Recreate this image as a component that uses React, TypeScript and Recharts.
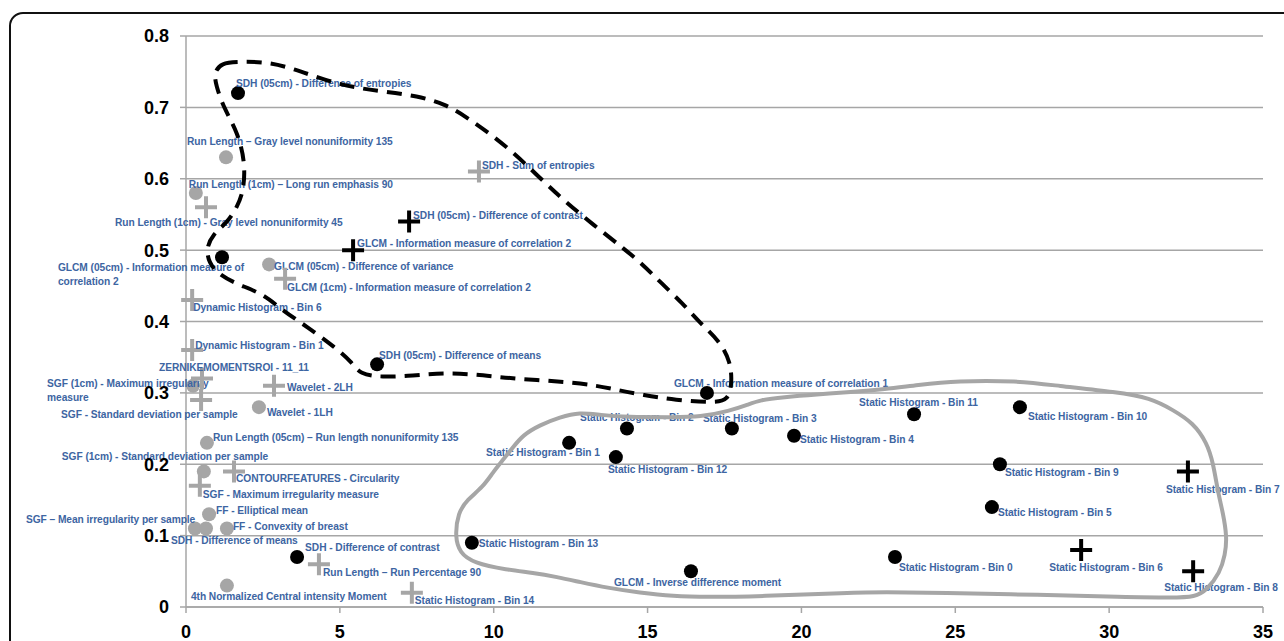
import React from "react";
import { ScatterChart, Scatter, XAxis, YAxis, CartesianGrid } from "recharts";

const xTicks = [0, 5, 10, 15, 20, 25, 30, 35];
const yTicks = [0, 0.1, 0.2, 0.3, 0.4, 0.5, 0.6, 0.7, 0.8];

// black dots
const blackDots = [
  { x: 1.69, y: 0.72, name: "SDH (05cm) - Difference of entropies" },
  { x: 1.17, y: 0.49, name: "GLCM (05cm) - Information measure of\ncorrelation 2" },
  { x: 6.21, y: 0.34, name: "SDH (05cm) - Difference of means" },
  { x: 16.93, y: 0.3, name: "GLCM - Information measure of correlation 1" },
  { x: 14.33, y: 0.25, name: "Static Histogram - Bin 2" },
  { x: 12.45, y: 0.23, name: "Static Histogram -  Bin 1" },
  { x: 13.97, y: 0.21, name: "Static Histogram - Bin 12" },
  { x: 17.74, y: 0.25, name: "Static Histogram - Bin 3" },
  { x: 19.76, y: 0.24, name: "Static Histogram - Bin 4" },
  { x: 23.66, y: 0.27, name: "Static Histogram - Bin 11" },
  { x: 27.1, y: 0.28, name: "Static Histogram - Bin 10" },
  { x: 26.45, y: 0.2, name: "Static Histogram - Bin 9" },
  { x: 26.19, y: 0.14, name: "Static Histogram - Bin 5" },
  { x: 23.04, y: 0.07, name: "Static Histogram - Bin 0" },
  { x: 16.41, y: 0.05, name: "GLCM - Inverse difference moment" },
  { x: 9.29, y: 0.09, name: "Static Histogram - Bin 13" },
  { x: 3.61, y: 0.07, name: "SDH - Difference of contrast" },
];

// black crosses
const blackCrosses = [
  { x: 7.25, y: 0.54, name: "SDH (05cm) - Difference of contrast" },
  { x: 5.43, y: 0.5, name: "GLCM - Information measure of correlation 2" },
  { x: 32.56, y: 0.19, name: "Static Histogram - Bin 7" },
  { x: 29.09, y: 0.08, name: "Static Histogram - Bin 6" },
  { x: 32.73, y: 0.05, name: "Static Histogram - Bin 8" },
];

// grey dots
const greyDots = [
  { x: 1.3, y: 0.63, name: "Run Length \u2013 Gray level nonuniformity 135" },
  { x: 0.32, y: 0.58, name: "Run Length (1cm) \u2013 Long run emphasis 90" },
  { x: 2.7, y: 0.48, name: "GLCM (05cm) - Difference of variance" },
  { x: 0.23, y: 0.31, name: "SGF (1cm) - Maximum irregularity\nmeasure" },
  { x: 2.37, y: 0.28, name: "Wavelet - 1LH" },
  { x: 0.68, y: 0.23, name: "Run Length (05cm) \u2013 Run length nonuniformity 135" },
  { x: 0.58, y: 0.19, name: "SGF (1cm) - Standard deviation per sample" },
  { x: 0.75, y: 0.13, name: "FF - Elliptical mean" },
  { x: 0.29, y: 0.11, name: "SGF \u2013 Mean irregularity per sample" },
  { x: 0.65, y: 0.11, name: "SDH - Difference of means" },
  { x: 1.33, y: 0.11, name: "FF - Convexity of breast" },
  { x: 1.33, y: 0.03, name: "4th Normalized Central intensity Moment" },
];

// grey crosses
const greyCrosses = [
  { x: 9.52, y: 0.61, name: "SDH - Sum of entropies" },
  { x: 0.65, y: 0.56, name: "Run Length (1cm) - Gray level nonuniformity 45" },
  { x: 3.22, y: 0.46, name: "GLCM (1cm) - Information measure of correlation 2" },
  { x: 0.2, y: 0.43, name: "Dynamic Histogram - Bin 6" },
  { x: 0.2, y: 0.36, name: "Dynamic Histogram - Bin 1" },
  { x: 0.52, y: 0.32, name: "ZERNIKEMOMENTSROI - 11_11" },
  { x: 2.86, y: 0.31, name: "Wavelet - 2LH" },
  { x: 0.49, y: 0.29, name: "SGF - Standard deviation per sample" },
  { x: 1.56, y: 0.19, name: "CONTOURFEATURES - Circularity" },
  { x: 0.45, y: 0.17, name: "SGF - Maximum irregularity measure" },
  { x: 4.32, y: 0.06, name: "Run Length \u2013 Run Percentage 90" },
  { x: 7.34, y: 0.02, name: "Static Histogram - Bin 14" },
];

// hand-drawn dashed outline (upper group)
const dashedOutline = [
  { x: 0.91, y: 0.75 }, { x: 1.17, y: 0.762 }, { x: 1.62, y: 0.764 }, { x: 2.63, y: 0.764 },
  { x: 3.51, y: 0.754 }, { x: 4.58, y: 0.737 }, { x: 5.56, y: 0.727 }, { x: 6.47, y: 0.722 },
  { x: 7.51, y: 0.716 }, { x: 8.42, y: 0.705 }, { x: 9.16, y: 0.685 }, { x: 9.88, y: 0.663 },
  { x: 10.66, y: 0.636 }, { x: 11.41, y: 0.605 }, { x: 12.12, y: 0.576 }, { x: 12.77, y: 0.552 },
  { x: 13.52, y: 0.526 }, { x: 14.23, y: 0.502 }, { x: 14.82, y: 0.481 }, { x: 15.44, y: 0.454 },
  { x: 16.15, y: 0.425 }, { x: 16.7, y: 0.398 }, { x: 17.32, y: 0.374 }, { x: 17.71, y: 0.343 },
  { x: 17.74, y: 0.311 }, { x: 17.61, y: 0.29 }, { x: 17.19, y: 0.286 }, { x: 15.89, y: 0.29 },
  { x: 14.85, y: 0.297 }, { x: 14.01, y: 0.304 }, { x: 13.39, y: 0.31 }, { x: 12.41, y: 0.315 },
  { x: 11.41, y: 0.318 }, { x: 10.37, y: 0.321 }, { x: 9.39, y: 0.326 }, { x: 8.35, y: 0.328 },
  { x: 7.38, y: 0.324 }, { x: 6.34, y: 0.322 }, { x: 5.65, y: 0.326 }, { x: 5.39, y: 0.343 },
  { x: 4.84, y: 0.364 }, { x: 3.96, y: 0.392 }, { x: 3.15, y: 0.415 }, { x: 2.47, y: 0.44 },
  { x: 1.59, y: 0.453 }, { x: 0.84, y: 0.472 }, { x: 0.62, y: 0.5 }, { x: 0.88, y: 0.523 },
  { x: 1.33, y: 0.538 }, { x: 1.66, y: 0.56 }, { x: 1.88, y: 0.584 }, { x: 1.92, y: 0.623 },
  { x: 1.69, y: 0.664 }, { x: 1.23, y: 0.699 }, { x: 0.97, y: 0.731 },
];

// hand-drawn grey outline (static histogram group)
const greyOutline = [
  { x: 8.74, y: 0.098 }, { x: 8.84, y: 0.132 }, { x: 9.13, y: 0.15 }, { x: 9.65, y: 0.168 },
  { x: 9.98, y: 0.189 }, { x: 10.3, y: 0.206 }, { x: 10.63, y: 0.224 }, { x: 10.95, y: 0.241 },
  { x: 11.5, y: 0.255 }, { x: 12.15, y: 0.266 }, { x: 12.8, y: 0.273 }, { x: 13.45, y: 0.269 },
  { x: 14.33, y: 0.266 }, { x: 15.83, y: 0.266 }, { x: 16.7, y: 0.266 }, { x: 17.68, y: 0.275 },
  { x: 18.23, y: 0.283 }, { x: 18.65, y: 0.29 }, { x: 19.4, y: 0.294 }, { x: 20.51, y: 0.298 },
  { x: 21.58, y: 0.301 }, { x: 22.72, y: 0.305 }, { x: 23.76, y: 0.311 }, { x: 25.06, y: 0.317 },
  { x: 27.01, y: 0.317 }, { x: 28.31, y: 0.31 }, { x: 30.26, y: 0.301 }, { x: 31.33, y: 0.293 },
  { x: 32.08, y: 0.276 }, { x: 32.73, y: 0.258 }, { x: 33.18, y: 0.23 }, { x: 33.38, y: 0.202 },
  { x: 33.54, y: 0.16 }, { x: 33.7, y: 0.132 }, { x: 33.83, y: 0.098 }, { x: 33.77, y: 0.073 },
  { x: 33.6, y: 0.048 }, { x: 33.18, y: 0.024 }, { x: 32.79, y: 0.014 }, { x: 32.08, y: 0.013 },
  { x: 30.45, y: 0.014 }, { x: 27.75, y: 0.017 }, { x: 24.5, y: 0.02 }, { x: 22.65, y: 0.021 },
  { x: 21.58, y: 0.02 }, { x: 18.65, y: 0.015 }, { x: 16.93, y: 0.014 }, { x: 15.83, y: 0.015 },
  { x: 14.75, y: 0.02 }, { x: 13.68, y: 0.027 }, { x: 12.8, y: 0.035 }, { x: 12.06, y: 0.042 },
  { x: 11.28, y: 0.048 }, { x: 10.43, y: 0.052 }, { x: 9.33, y: 0.062 }, { x: 8.9, y: 0.076 },
];

// label placement relative to the marker (px)
const labelOffsets: Record<string, [number, number]> = {
  "SDH (05cm) - Difference of entropies": [-2, -10],
  "GLCM (05cm) - Information measure of\ncorrelation 2": [-164, 10],
  "SDH (05cm) - Difference of means": [2, -9],
  "GLCM - Information measure of correlation 1": [-33, -10],
  "Static Histogram - Bin 2": [-47, -12],
  "Static Histogram -  Bin 1": [-83, 9],
  "Static Histogram - Bin 12": [-8, 12],
  "Static Histogram - Bin 3": [-29, -11],
  "Static Histogram - Bin 4": [6, 3],
  "Static Histogram - Bin 11": [-55, -12],
  "Static Histogram - Bin 10": [8, 9],
  "Static Histogram - Bin 9": [5, 8],
  "Static Histogram - Bin 5": [6, 5],
  "Static Histogram - Bin 0": [4, 10],
  "GLCM - Inverse difference moment": [-77, 11],
  "Static Histogram - Bin 13": [7, 0],
  "SDH - Difference of contrast": [8, -10],
  "SDH (05cm) - Difference of contrast": [4, -7],
  "GLCM - Information measure of correlation 2": [4, -7],
  "Static Histogram - Bin 7": [-22, 18],
  "Static Histogram - Bin 6": [-32, 17],
  "Static Histogram - Bin 8": [-29, 16],
  "Run Length \u2013 Gray level nonuniformity 135": [-39, -16],
  "Run Length (1cm) \u2013 Long run emphasis 90": [-7, -9],
  "GLCM (05cm) - Difference of variance": [5, 2],
  "SGF (1cm) - Maximum irregularity\nmeasure": [-146, -3],
  "Wavelet - 1LH": [8, 5],
  "Run Length (05cm) \u2013 Run length nonuniformity 135": [6, -6],
  "SGF (1cm) - Standard deviation per sample": [-142, -15],
  "FF - Elliptical mean": [7, -4],
  "SGF \u2013 Mean irregularity per sample": [-169, -9],
  "SDH - Difference of means": [-35, 12],
  "FF - Convexity of breast": [6, -2],
  "4th Normalized Central intensity Moment": [-36, 10],
  "SDH - Sum of entropies": [3, -7],
  "Run Length (1cm) - Gray level nonuniformity 45": [-91, 15],
  "GLCM (1cm) - Information measure of correlation 2": [2, 8],
  "Dynamic Histogram - Bin 6": [1, 7],
  "Dynamic Histogram - Bin 1": [3, -5],
  "ZERNIKEMOMENTSROI - 11_11": [-43, -12],
  "Wavelet - 2LH": [13, 1],
  "SGF - Standard deviation per sample": [-140, 14],
  "CONTOURFEATURES - Circularity": [2, 7],
  "SGF - Maximum irregularity measure": [3, 8],
  "Run Length \u2013 Run Percentage 90": [4, 8],
  "Static Histogram - Bin 14": [3, 7],
};

const GREY = "#a6a6a6";
const LABEL_COLOR = "#3d65a2";
const LABEL_FONT = "'Liberation Sans', Arial, sans-serif";

function PointLabel({ cx, cy, name }: { cx: number; cy: number; name: string }) {
  const [dx, dy] = labelOffsets[name] || [6, 0];
  const lines = name.split("\n");
  return (
    <text
      x={cx + dx}
      y={cy + dy}
      fill={LABEL_COLOR}
      fontSize={10.2}
      fontWeight={700}
      letterSpacing={-0.05}
      fontFamily={LABEL_FONT}
      dominantBaseline="central"
    >
      {lines.map((l, i) => (
        <tspan key={i} x={cx + dx} dy={i === 0 ? 0 : 14}>
          {l}
        </tspan>
      ))}
    </text>
  );
}

const dotShape = (color: string) => (props: any) => (
  <g>
    <circle cx={props.cx} cy={props.cy} r={7} fill={color} />
    <PointLabel cx={props.cx} cy={props.cy} name={props.payload.name} />
  </g>
);

const crossShape = (color: string) => (props: any) => {
  const { cx, cy } = props;
  return (
    <g>
      <path
        d={`M${cx - 11},${cy} H${cx + 11} M${cx},${cy - 11} V${cy + 11}`}
        stroke={color}
        strokeWidth={4}
      />
      <PointLabel cx={cx} cy={cy} name={props.payload.name} />
    </g>
  );
};

const noShape = () => <g />;

export default function App() {
  return (
    <div
      style={{
        position: "fixed",
        left: 0,
        top: 0,
        width: 1284,
        height: 641,
        overflow: "hidden",
        background: "#fff",
      }}
    >
      <div
        style={{
          position: "absolute",
          left: 9,
          top: 12,
          width: 1320,
          height: 700,
          border: "2px solid #111",
          borderRadius: 14,
        }}
      />
      <div style={{ position: "absolute", left: 0, top: 0 }}>
        <ScatterChart
          width={1284}
          height={641}
          margin={{ top: 36, right: 21, bottom: 4, left: 126 }}
        >
          <CartesianGrid vertical={false} stroke={GREY} strokeWidth={1.5} />
          <XAxis
            type="number"
            dataKey="x"
            domain={[0, 35]}
            ticks={xTicks}
            interval={0}
            height={30}
            axisLine={{ stroke: GREY, strokeWidth: 1.5 }}
            tickLine={{ stroke: GREY, strokeWidth: 1.5 }}
            tickSize={6}
            tickMargin={12}
            tick={{ fill: "#000", fontSize: 18, fontWeight: 700, fontFamily: "'Liberation Sans', Arial, sans-serif" }}
          />
          <YAxis
            type="number"
            dataKey="y"
            domain={[0, 0.8]}
            ticks={yTicks}
            interval={0}
            width={60}
            axisLine={{ stroke: GREY, strokeWidth: 1.5 }}
            tickLine={{ stroke: GREY, strokeWidth: 1.5 }}
            tickSize={6}
            tickMargin={11}
            tickFormatter={(v: number) => String(v)}
            tick={{ fill: "#000", fontSize: 18, fontWeight: 700, fontFamily: "'Liberation Sans', Arial, sans-serif" }}
          />
          <Scatter data={greyDots} shape={dotShape(GREY)} isAnimationActive={false} />
          <Scatter data={greyCrosses} shape={crossShape(GREY)} isAnimationActive={false} />
          <Scatter data={blackDots} shape={dotShape("#000")} isAnimationActive={false} />
          <Scatter data={blackCrosses} shape={crossShape("#000")} isAnimationActive={false} />
          <Scatter
            data={greyOutline}
            shape={noShape}
            line={{ stroke: GREY, strokeWidth: 4 }}
            lineJointType="basisClosed"
            isAnimationActive={false}
          />
          <Scatter
            data={dashedOutline}
            shape={noShape}
            line={{ stroke: "#000", strokeWidth: 4, strokeDasharray: "15 9" }}
            lineJointType="basisClosed"
            isAnimationActive={false}
          />
        </ScatterChart>
      </div>
    </div>
  );
}
